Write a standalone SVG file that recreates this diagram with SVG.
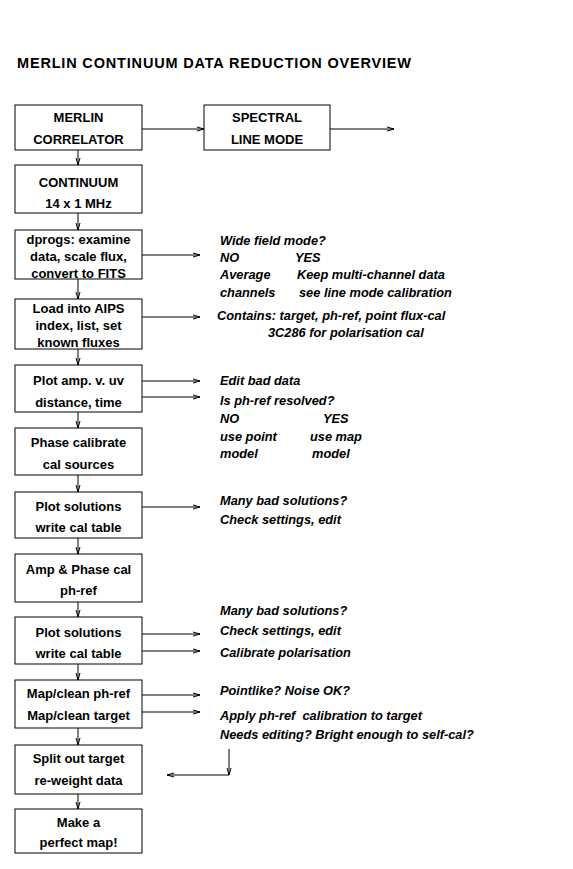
<svg xmlns="http://www.w3.org/2000/svg" width="573" height="869" viewBox="0 0 573 869">
<style>
  .box { fill: #fff; stroke: #000; stroke-width: 1; }
  .bt { font-family: "Liberation Sans", Arial, sans-serif; font-weight: bold; font-size: 13px; text-anchor: middle; fill: #000; }
  .nt { font-family: "Liberation Sans", Arial, sans-serif; font-weight: bold; font-style: italic; font-size: 12.8px; fill: #000; }
  .title { font-family: "Liberation Sans", Arial, sans-serif; font-weight: bold; font-size: 14.5px; fill: #000; }
  .ln { fill: none; stroke: #000; stroke-width: 1; }
</style>
<defs>
  <marker id="ah" markerWidth="8" markerHeight="6" refX="7" refY="3" orient="auto" markerUnits="userSpaceOnUse">
    <path d="M0,1 L7,3 L0,5" fill="none" stroke="#000" stroke-width="1"/>
  </marker>
</defs>
<rect width="573" height="869" fill="#fff"/>
<text class="title" x="17" y="68" textLength="394" lengthAdjust="spacing">MERLIN CONTINUUM DATA REDUCTION OVERVIEW</text>

<g id="connectors">
  <line class="ln" x1="142" y1="129" x2="204" y2="129" marker-end="url(#ah)"/>
  <line class="ln" x1="330" y1="129" x2="394" y2="129" marker-end="url(#ah)"/>
  <line class="ln" x1="78" y1="150" x2="78" y2="165" marker-end="url(#ah)"/>
  <line class="ln" x1="78" y1="213" x2="78" y2="230" marker-end="url(#ah)"/>
  <line class="ln" x1="78" y1="279" x2="78" y2="299" marker-end="url(#ah)"/>
  <line class="ln" x1="78" y1="349" x2="78" y2="365" marker-end="url(#ah)"/>
  <line class="ln" x1="78" y1="412" x2="78" y2="428" marker-end="url(#ah)"/>
  <line class="ln" x1="78" y1="475" x2="78" y2="492" marker-end="url(#ah)"/>
  <line class="ln" x1="78" y1="538" x2="78" y2="554" marker-end="url(#ah)"/>
  <line class="ln" x1="78" y1="602" x2="78" y2="617" marker-end="url(#ah)"/>
  <line class="ln" x1="78" y1="664" x2="78" y2="680" marker-end="url(#ah)"/>
  <line class="ln" x1="78" y1="728" x2="78" y2="745" marker-end="url(#ah)"/>
  <line class="ln" x1="78" y1="794" x2="78" y2="809" marker-end="url(#ah)"/>
  <line class="ln" x1="142" y1="255" x2="200" y2="255" marker-end="url(#ah)"/>
  <line class="ln" x1="142" y1="317" x2="200" y2="317" marker-end="url(#ah)"/>
  <line class="ln" x1="142" y1="381" x2="200" y2="381" marker-end="url(#ah)"/>
  <line class="ln" x1="142" y1="397" x2="200" y2="397" marker-end="url(#ah)"/>
  <line class="ln" x1="142" y1="507" x2="200" y2="507" marker-end="url(#ah)"/>
  <line class="ln" x1="142" y1="634" x2="200" y2="634" marker-end="url(#ah)"/>
  <line class="ln" x1="142" y1="651" x2="200" y2="651" marker-end="url(#ah)"/>
  <line class="ln" x1="142" y1="695" x2="200" y2="695" marker-end="url(#ah)"/>
  <line class="ln" x1="142" y1="712" x2="200" y2="712" marker-end="url(#ah)"/>
  <line class="ln" x1="229" y1="749" x2="229" y2="775" marker-end="url(#ah)"/>
  <line class="ln" x1="229" y1="775" x2="167" y2="775" marker-end="url(#ah)"/>
</g>

<g id="n-correlator"><rect class="box" x="15" y="105" width="127" height="45"/>
  <text class="bt" x="78.5" y="122">MERLIN</text><text class="bt" x="78.5" y="144">CORRELATOR</text></g>
<g id="n-spectral"><rect class="box" x="204" y="105" width="126" height="45"/>
  <text class="bt" x="267" y="122">SPECTRAL</text><text class="bt" x="267" y="144">LINE MODE</text></g>
<g id="n-continuum"><rect class="box" x="15" y="165" width="127" height="48"/>
  <text class="bt" x="78.5" y="187">CONTINUUM</text><text class="bt" x="78.5" y="208">14 x 1 MHz</text></g>
<g id="n-dprogs"><rect class="box" x="15" y="230" width="127" height="49"/>
  <text class="bt" x="78.5" y="244">dprogs: examine</text><text class="bt" x="78.5" y="261">data, scale flux,</text><text class="bt" x="78.5" y="278">convert to FITS</text></g>
<g id="n-aips"><rect class="box" x="15" y="299" width="127" height="50"/>
  <text class="bt" x="78.5" y="313">Load into AIPS</text><text class="bt" x="78.5" y="330">index, list, set</text><text class="bt" x="78.5" y="347">known fluxes</text></g>
<g id="n-plotamp"><rect class="box" x="15" y="365" width="127" height="47"/>
  <text class="bt" x="78.5" y="385">Plot amp. v. uv</text><text class="bt" x="78.5" y="407">distance, time</text></g>
<g id="n-phasecal"><rect class="box" x="15" y="428" width="127" height="47"/>
  <text class="bt" x="78.5" y="447">Phase calibrate</text><text class="bt" x="78.5" y="469">cal sources</text></g>
<g id="n-plotsol1"><rect class="box" x="15" y="492" width="127" height="46"/>
  <text class="bt" x="78.5" y="511">Plot solutions</text><text class="bt" x="78.5" y="532">write cal table</text></g>
<g id="n-ampphase"><rect class="box" x="15" y="554" width="127" height="48"/>
  <text class="bt" x="78.5" y="574">Amp &amp; Phase cal</text><text class="bt" x="78.5" y="595">ph-ref</text></g>
<g id="n-plotsol2"><rect class="box" x="15" y="617" width="127" height="47"/>
  <text class="bt" x="78.5" y="637">Plot solutions</text><text class="bt" x="78.5" y="658">write cal table</text></g>
<g id="n-mapclean"><rect class="box" x="15" y="680" width="127" height="48"/>
  <text class="bt" x="78.5" y="698">Map/clean ph-ref</text><text class="bt" x="78.5" y="720">Map/clean target</text></g>
<g id="n-split"><rect class="box" x="15" y="745" width="127" height="49"/>
  <text class="bt" x="78.5" y="763">Split out target</text><text class="bt" x="78.5" y="785">re-weight data</text></g>
<g id="n-perfect"><rect class="box" x="15" y="809" width="127" height="44"/>
  <text class="bt" x="78.5" y="827">Make a</text><text class="bt" x="78.5" y="847">perfect map!</text></g>

<g id="notes">
  <text class="nt" x="220" y="245">Wide field mode?</text>
  <text class="nt" x="220" y="262">NO</text><text class="nt" x="295" y="262">YES</text>
  <text class="nt" x="220" y="279">Average</text><text class="nt" x="297" y="279">Keep multi-channel data</text>
  <text class="nt" x="220" y="297">channels</text><text class="nt" x="299" y="297">see line mode calibration</text>
  <text class="nt" x="217" y="320">Contains: target, ph-ref, point flux-cal</text>
  <text class="nt" x="268" y="337">3C286 for polarisation cal</text>
  <text class="nt" x="220" y="385">Edit bad data</text>
  <text class="nt" x="220" y="405">Is ph-ref resolved?</text>
  <text class="nt" x="220" y="423">NO</text><text class="nt" x="323" y="423">YES</text>
  <text class="nt" x="220" y="441">use point</text><text class="nt" x="310" y="441">use map</text>
  <text class="nt" x="220" y="458">model</text><text class="nt" x="312" y="458">model</text>
  <text class="nt" x="220" y="505">Many bad solutions?</text>
  <text class="nt" x="220" y="524">Check settings, edit</text>
  <text class="nt" x="220" y="615">Many bad solutions?</text>
  <text class="nt" x="220" y="635">Check settings, edit</text>
  <text class="nt" x="220" y="657">Calibrate polarisation</text>
  <text class="nt" x="220" y="695">Pointlike? Noise OK?</text>
  <text class="nt" x="220" y="720" xml:space="preserve">Apply ph-ref  calibration to target</text>
  <text class="nt" x="220" y="739">Needs editing? Bright enough to self-cal?</text>
</g>
</svg>
